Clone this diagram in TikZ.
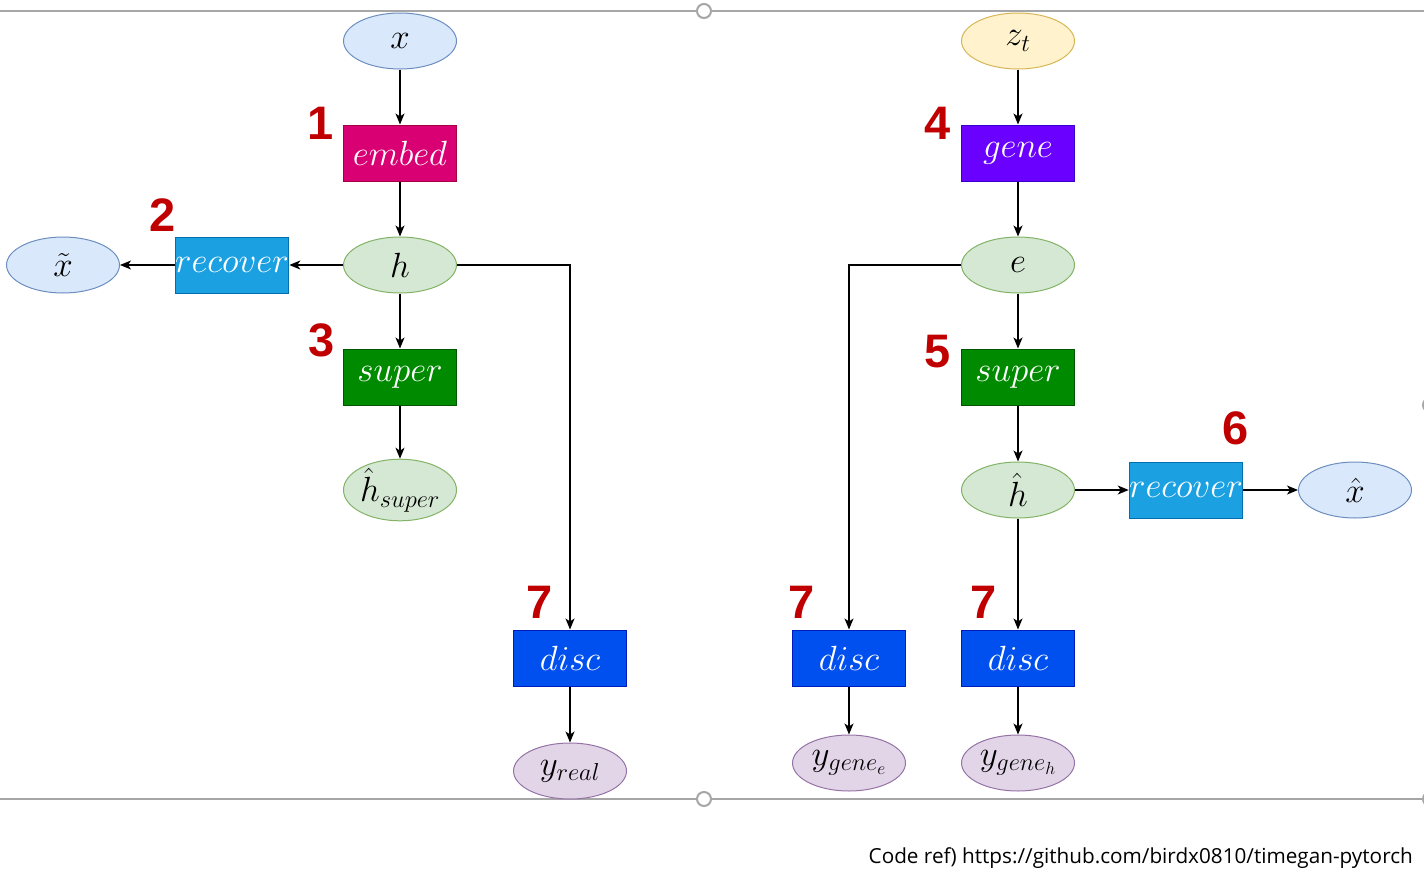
\documentclass[tikz,border=0pt]{standalone}
\usepackage{fix-cm}
\usepackage{fontspec}
\usetikzlibrary{shapes.geometric,arrows.meta}
\newfontfamily\numfont{Liberation Sans}
\newfontfamily\reffont{Open Sans}
\definecolor{numred}{HTML}{C00000}
\definecolor{bluefill}{HTML}{DAE8FC}\definecolor{bluedraw}{HTML}{6C8EBF}
\definecolor{greenfill}{HTML}{D5E8D4}\definecolor{greendraw}{HTML}{82B366}
\definecolor{yellowfill}{HTML}{FFF2CC}\definecolor{yellowdraw}{HTML}{D6B656}
\definecolor{purplefill}{HTML}{E1D5E7}\definecolor{purpledraw}{HTML}{9673A6}
\definecolor{magfill}{HTML}{D80073}\definecolor{magdraw}{HTML}{A50040}
\definecolor{cyanfill}{HTML}{1BA1E2}\definecolor{cyandraw}{HTML}{006EAF}
\definecolor{dgreenfill}{HTML}{008A00}\definecolor{dgreendraw}{HTML}{005700}
\definecolor{violfill}{HTML}{6A00FF}\definecolor{violdraw}{HTML}{3700CC}
\definecolor{discfill}{HTML}{0050EF}\definecolor{discdraw}{HTML}{001DBC}
\definecolor{framegray}{HTML}{A6A6A6}
\tikzset{
  box/.style={rectangle, minimum width=113pt, minimum height=56pt, inner sep=0pt, draw, line width=1pt, text=white, font=\fontsize{35}{42}\selectfont},
  ell/.style={ellipse, minimum width=113pt, minimum height=56pt, inner sep=0pt, draw, line width=1pt, text=black, font=\fontsize{35}{42}\selectfont},
  bell/.style={ell, fill=bluefill, draw=bluedraw},
  gell/.style={ell, fill=greenfill, draw=greendraw},
  yell/.style={ell, fill=yellowfill, draw=yellowdraw},
  pell/.style={ell, fill=purplefill, draw=purpledraw},
  conn/.style={-{Stealth[length=11pt,width=9pt,inset=3pt]}, line width=1.3pt, black},
  num/.style={text=numred, font=\fontsize{47}{50}\bfseries\numfont, inner sep=0pt},
  handle/.style={circle, draw=framegray, fill=white, line width=2pt, minimum size=14pt, inner sep=0pt},
}
\begin{document}
\begin{tikzpicture}[x=1pt,y=-1pt]
\useasboundingbox (0,0) rectangle (1424,886);
% frame
\draw[framegray, line width=1.3pt] (0,11) -- (1424,11);
\draw[framegray, line width=1.3pt] (0,799) -- (1424,799);
\node[handle] (h1) at (704,11) {};
\node[handle] (h2) at (704,799) {};
\node[handle] (h3) at (1430,405) {};
\node[handle] (h4) at (1430,799) {};
% left column
\node[bell] (x) at (400,41) {$x$};
\node[box, fill=magfill, draw=magdraw] (embed) at (400,153) {$embed$};
\node[gell] (h) at (400,265) {$h$};
\node[box, fill=cyanfill, draw=cyandraw] (rec1) at (232,265) {$recover$};
\node[bell] (xt) at (63,265) {$\tilde{x}$};
\node[box, fill=dgreenfill, draw=dgreendraw] (sup1) at (400,377) {$super$};
\node[gell] (hs) at (400,490) {$\hat{h}_{super}$};
\node[box, fill=discfill, draw=discdraw] (disc1) at (570,658) {$disc$};
\node[pell] (yr) at (570,771) {$y_{real}$};
% right column
\node[yell] (z) at (1018,41) {$z_t$};
\node[box, fill=violfill, draw=violdraw] (gene) at (1018,153) {$gene$};
\node[gell] (e) at (1018,265) {$e$};
\node[box, fill=dgreenfill, draw=dgreendraw] (sup2) at (1018,377) {$super$};
\node[gell] (hh) at (1018,490) {$\hat{h}$};
\node[box, fill=cyanfill, draw=cyandraw] (rec2) at (1186,490) {$recover$};
\node[bell] (xh) at (1355,490) {$\hat{x}$};
\node[box, fill=discfill, draw=discdraw] (disc2) at (849,658) {$disc$};
\node[pell] (yge) at (849,763) {$y_{gene_e}$};
\node[box, fill=discfill, draw=discdraw] (disc3) at (1018,658) {$disc$};
\node[pell] (ygh) at (1018,763) {$y_{gene_h}$};
% connectors
\draw[conn] (x) -- (embed);
\draw[conn] (embed) -- (h);
\draw[conn] (h) -- (rec1);
\draw[conn] (rec1) -- (xt);
\draw[conn] (h) -- (sup1);
\draw[conn] (sup1) -- (hs);
\draw[conn] (h.east) -| (disc1.north);
\draw[conn] (disc1) -- (yr);
\draw[conn] (z) -- (gene);
\draw[conn] (gene) -- (e);
\draw[conn] (e) -- (sup2);
\draw[conn] (sup2) -- (hh);
\draw[conn] (hh) -- (rec2);
\draw[conn] (rec2) -- (xh);
\draw[conn] (e.west) -| (disc2.north);
\draw[conn] (hh) -- (disc3);
\draw[conn] (disc2) -- (yge);
\draw[conn] (disc3) -- (ygh);
% numbers
\node[num] (n1) at (321,123) {1};
\node[num] (n2) at (163,215) {2};
\node[num] (n3) at (322,340) {3};
\node[num] (n4) at (938,123) {4};
\node[num] (n5) at (938,352) {5};
\node[num] (n6) at (1236,428) {6};
\node[num] (n7a) at (540,602) {7};
\node[num] (n7b) at (802,602) {7};
\node[num] (n7c) at (984,602) {7};
% reference
\node[anchor=east, inner sep=0pt] (ref) at (1413,858) {\resizebox{544pt}{!}{\reffont Code ref) https://github.com/birdx0810/timegan-pytorch}};
\end{tikzpicture}
\end{document}
